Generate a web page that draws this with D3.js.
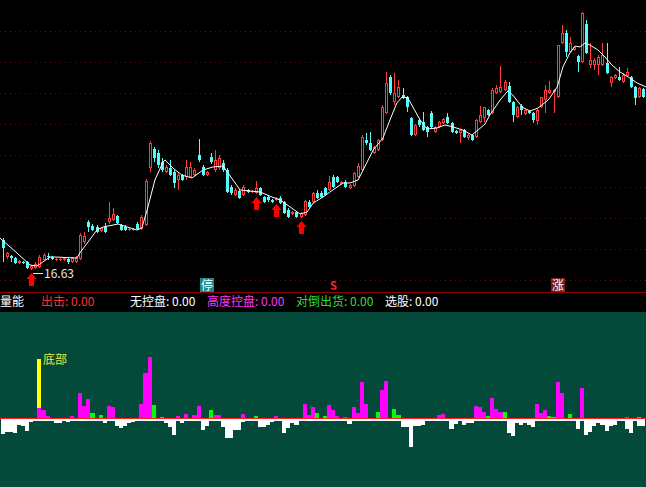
<!DOCTYPE html>
<html><head><meta charset="utf-8">
<script src="https://cdn.jsdelivr.net/npm/d3@7"></script>
<style>html,body{margin:0;padding:0;background:#000;overflow:hidden}svg{display:block}</style>
</head><body><svg id="c" width="646" height="487"></svg>
<script>
const candleOpen = [19.63,17.93,18.03,17.83,17.33,17.43,17.43,16.73,16.83,16.93,17.63,18.03,17.93,17.63,17.63,17.63,17.73,17.43,17.43,17.73,19.43,21.43,21.03,20.93,20.53,20.93,21.43,21.63,22.03,21.13,20.93,20.63,20.63,21.23,20.73,21.13,26.83,28.73,28.33,27.43,26.43,26.83,26.43,25.63,26.13,25.93,25.93,26.13,28.13,26.93,26.13,27.93,26.63,26.83,27.33,26.63,24.93,24.13,24.53,24.13,24.63,24.43,24.33,24.83,23.93,23.93,23.63,23.63,23.83,23.43,22.63,22.23,22.43,21.93,22.13,23.43,23.43,24.33,24.33,24.83,24.63,25.93,25.93,25.23,25.43,24.83,25.03,25.93,26.63,29.63,29.33,28.33,28.63,29.63,32.33,35.93,33.43,33.93,34.13,33.93,31.83,30.13,31.63,31.43,30.93,32.33,30.43,30.93,31.33,31.93,31.33,30.53,30.33,30.63,29.83,30.13,29.93,31.43,31.83,32.63,32.33,34.33,34.43,34.63,35.03,33.43,31.93,33.03,32.23,32.53,32.33,31.53,32.93,33.63,34.33,34.43,33.93,39.33,40.33,38.43,38.63,38.03,37.43,41.23,37.13,37.13,37.13,37.13,37.33,35.33,35.83,35.93,35.43,36.03,35.93,34.93,33.93,34.73];
const candleHigh = [19.83,18.43,18.13,17.93,17.63,17.53,17.53,17.13,17.43,18.13,18.33,18.33,18.03,17.83,17.83,17.93,17.83,17.93,18.03,20.33,20.43,21.63,21.23,21.13,20.93,21.33,23.43,22.83,22.13,21.23,21.13,20.83,20.83,21.43,22.13,25.73,29.53,28.93,28.63,27.83,27.13,27.63,26.63,26.33,26.23,27.63,27.43,26.83,29.73,27.13,26.53,28.33,28.63,28.13,27.63,26.83,25.13,24.83,24.73,25.13,24.73,24.63,25.53,24.93,24.03,24.13,23.73,23.93,24.03,23.53,22.83,22.53,22.53,22.43,23.63,23.63,24.43,24.63,24.53,24.93,26.03,26.13,26.03,25.53,25.63,25.23,26.43,27.33,30.13,30.33,30.43,29.03,29.73,33.13,36.43,36.13,36.33,35.63,34.83,34.03,31.93,31.23,31.73,32.43,31.03,32.53,31.03,31.53,31.83,32.33,31.43,30.63,30.73,30.73,30.23,30.23,31.73,33.03,32.93,32.73,34.83,35.13,37.03,35.63,35.43,33.53,33.03,33.23,32.73,32.63,32.43,32.73,33.93,35.13,35.53,34.73,39.13,41.13,40.63,39.93,39.03,38.13,42.43,41.63,39.33,37.83,38.13,39.33,39.33,36.03,36.23,36.93,36.33,36.83,36.03,35.03,34.93,34.83];
const candleLow = [17.43,17.73,17.43,17.23,17.23,17.23,16.73,16.63,16.73,16.83,17.53,17.63,17.63,17.53,17.53,17.53,17.23,17.33,17.33,17.63,19.23,20.43,20.53,20.33,20.43,20.33,21.23,21.53,21.23,20.53,20.53,20.53,20.53,20.63,20.63,21.03,26.43,27.43,26.83,26.43,26.33,26.03,24.83,24.63,25.53,25.63,25.83,26.03,27.43,26.03,26.03,27.23,26.43,26.63,26.43,24.33,24.13,24.03,23.73,24.03,24.33,24.33,24.23,24.03,23.33,23.43,23.33,23.53,23.23,22.23,21.83,22.13,21.83,21.83,22.03,22.83,23.33,23.73,23.83,24.03,24.53,24.83,25.33,25.13,24.83,24.73,24.93,25.83,26.53,29.13,28.53,28.23,28.53,29.53,32.23,34.13,33.13,33.83,33.73,32.43,30.03,30.03,30.93,30.53,29.93,30.83,30.33,30.83,31.23,31.23,30.33,30.23,29.33,29.83,29.63,29.53,29.83,31.33,31.43,32.03,32.23,34.23,34.33,34.53,33.33,31.43,31.83,32.13,32.13,32.23,31.33,31.13,32.83,32.33,34.23,32.33,33.83,39.23,37.93,38.33,38.53,36.43,37.33,38.23,36.83,36.63,36.13,37.03,36.23,34.93,35.73,35.53,35.33,35.93,34.83,33.13,33.83,33.83];
const candleClose = [18.83,18.33,17.83,17.33,17.53,17.33,16.83,17.03,17.23,17.93,18.13,17.93,17.73,17.73,17.73,17.83,17.43,17.83,17.83,20.13,20.03,20.93,20.63,20.43,20.83,20.43,21.83,22.23,21.33,20.63,20.63,20.73,20.73,20.73,21.93,25.53,29.33,27.83,27.13,26.63,26.93,26.13,25.33,26.13,25.63,26.93,26.93,26.63,27.63,26.13,26.43,27.43,27.63,27.83,26.63,24.43,24.33,24.63,23.83,24.93,24.43,24.53,24.83,24.13,23.43,23.63,23.43,23.83,23.33,22.33,21.93,22.43,21.93,22.33,23.53,22.93,24.33,23.83,23.93,24.13,25.43,24.93,25.43,25.43,24.93,25.13,26.33,27.03,29.93,29.33,28.63,28.93,29.63,32.93,35.33,34.33,34.33,34.93,33.83,32.93,30.13,31.13,31.13,30.63,30.43,30.93,30.93,31.43,31.73,31.33,30.43,30.33,30.63,29.93,30.13,29.63,31.63,32.13,32.93,32.13,34.63,34.83,34.93,35.43,33.43,32.13,32.93,32.63,32.63,32.33,31.63,32.63,33.93,34.63,34.63,34.63,39.13,40.33,38.43,39.33,38.93,37.43,42.33,38.33,37.63,37.63,37.93,38.13,36.33,35.93,36.13,35.63,36.13,36.43,34.93,33.83,34.83,33.93];

// white moving-average line: knots [bar index, price]
const maIndex = [-0.7,3.5,6.7,8.4,11.6,12.8,18.2,18.9,23.1,24.6,28.3,30.5,32.9,34.1,35.4,37.3,39.3,39.8,41.7,43.9,46.4,49.1,51.5,54,58.2,60.6,63.1,66,68,72.9,74.6,76.1,78.5,80.2,83.4,85.1,87.1,90.8,93.2,94.9,96.6,97.9,99.3,102.3,104,106.4,108.4,110.4,112.8,115,116.5,118.2,119.4,121.9,123.8,125,127.3,129.2,131.2,133.7,135.9,137.3,139,140.3,141.5,142.7,143.9,145.9,147.6,149.3,151.3,153.3,155.5,157.7];
const maValue = [19.83,18.33,17.13,17.03,17.93,17.93,17.83,18.33,20.63,20.93,21.23,20.93,20.63,20.83,22.63,25.63,27.43,27.63,26.83,26.13,25.83,26.63,26.93,27.03,24.63,24.53,24.43,23.93,23.63,22.23,22.43,23.33,23.93,24.43,25.33,25.33,25.63,28.63,29.83,31.63,33.33,33.93,33.83,31.63,30.73,30.83,31.13,30.93,30.63,30.13,30.63,31.23,32.13,33.63,34.53,34.13,32.93,32.53,32.83,33.63,34.93,36.93,38.33,39.03,38.93,39.33,39.13,38.63,37.93,37.13,36.43,35.93,35.33,34.93];

// grid price levels (no labels shown)
const gridLevels = [40.58,37.46,34.34,31.22,28.10,24.98,21.86,18.74,15.62];

// lower indicator panel
const magentaBars = [[9,10],[10,8],[11,2],[17,2],[19,25],[20,12],[21,19],[26,12],[27,11],[34,14],[35,45],[36,61],[43,2],[45,4],[47,3],[48,12],[52,3],[53,3],[59,4],[67,2],[74,14],[75,3],[76,11],[80,13],[81,8],[82,2],[84,1],[86,11],[87,5],[88,36],[89,14],[93,28],[94,37],[107,3],[108,4],[116,12],[117,11],[118,6],[120,20],[121,9],[122,6],[131,14],[132,5],[133,8],[136,36],[137,25],[142,30],[153,1]];
const greenBars = [[22,5],[24,3],[37,13],[39,1],[51,8],[62,2],[77,5],[79,2],[92,6],[96,9],[97,3],[119,2],[123,6],[134,2],[135,1],[139,4],[156,1]];
const whiteVals = [15,13,13,14,6,7,12,3,2,2,2,2,2,4,4,2,3,2,2,2,2,2,2,2,2,4,2,2,7,9,7,4,3,2,2,2,2,2,2,2,4,8,16,2,4,2,2,2,2,11,7,2,2,2,8,19,19,11,11,3,2,2,2,8,8,6,3,2,2,14,9,4,6,2,2,2,2,2,2,2,2,2,2,2,2,5,2,2,2,2,2,2,2,2,2,2,2,2,8,8,28,7,7,6,2,2,2,2,2,2,10,5,2,6,4,4,2,2,2,2,2,2,2,2,14,17,4,6,4,6,8,2,2,2,2,2,2,2,2,2,2,10,2,16,13,7,4,6,12,7,6,2,2,10,14,2,7,7];
const bottomBar = {index: 9, from: 10, to: 59, label: "底部"};

const signalArrows = [7, 62, 67, 73];
const tags = [{index:50, text:"停", bg:"#168c8c", fg:"#ffffff"},{index:136, text:"涨", bg:"#7a1d1d", fg:"#ffffff"}];
const sTags = [{index:81, text:"S"}];

const legendItems = [
  {text:"量能", color:"#ffffff", x:0},
  {text:"出击: 0.00", color:"#ff3030", x:41},
  {text:"无控盘: 0.00", color:"#ffffff", x:130},
  {text:"高度控盘: 0.00", color:"#ff33ff", x:207},
  {text:"对倒出货: 0.00", color:"#33dd33", x:296},
  {text:"选股: 0.00", color:"#ffffff", x:385}
];

const W = 646, H = 487;
const FONT = "'Noto Sans CJK SC','Noto Sans',sans-serif";
const UP = "#ff3c3c", DOWN = "#54fcfc";
const svg = d3.select("#c");
svg.append("rect").attr("width", W).attr("height", H).attr("fill", "#000");
svg.append("rect").attr("x", 0).attr("y", 312).attr("width", W).attr("height", H - 312).attr("fill", "#034a3b");

const n = candleOpen.length;
const x = d3.scaleLinear().domain([0, n - 1]).range([2.7, 643.3]);
const y = d3.scaleLinear().domain([14.63, 43.63]).range([290, 0]);

// grid
svg.append("g").selectAll("line").data(gridLevels).join("line")
  .attr("x1", 0).attr("x2", W)
  .attr("y1", d => Math.round(y(d)) + 0.5).attr("y2", d => Math.round(y(d)) + 0.5)
  .attr("stroke", "#5a1010").attr("stroke-dasharray", "1,4");

// separator
svg.append("line").attr("x1", 0).attr("x2", W).attr("y1", 292.5).attr("y2", 292.5).attr("stroke", "#8c0000");

// candles
const data = d3.range(n).map(i => ({i, o: candleOpen[i], h: candleHigh[i], l: candleLow[i], c: candleClose[i]}));
const cg = svg.append("g");
data.forEach(d => {
  const cx = Math.round(x(d.i));
  const up = d.c >= d.o;
  const top = Math.round(y(Math.max(d.o, d.c)));
  const bot = Math.round(y(Math.min(d.o, d.c)));
  const yh = Math.round(y(d.h)), yl = Math.round(y(d.l));
  const col = up ? UP : DOWN;
  if (up) {
    if (yh < top) cg.append("line").attr("x1", cx + 0.5).attr("x2", cx + 0.5).attr("y1", yh).attr("y2", top).attr("stroke", col);
    if (yl > bot) cg.append("line").attr("x1", cx + 0.5).attr("x2", cx + 0.5).attr("y1", bot).attr("y2", yl).attr("stroke", col);
    if (bot - top >= 2) {
      cg.append("rect").attr("x", cx - 0.5).attr("y", top + 0.5).attr("width", 2).attr("height", bot - top - 1)
        .attr("fill", "#000").attr("stroke", col);
    } else {
      cg.append("rect").attr("x", cx - 1).attr("y", top).attr("width", 3).attr("height", Math.max(1, bot - top)).attr("fill", col);
    }
  } else {
    cg.append("line").attr("x1", cx + 0.5).attr("x2", cx + 0.5).attr("y1", yh).attr("y2", yl).attr("stroke", col);
    cg.append("rect").attr("x", cx - 1).attr("y", top).attr("width", 3).attr("height", Math.max(1, bot - top)).attr("fill", col);
  }
});

// MA line
svg.append("path").datum(d3.zip(maIndex, maValue))
  .attr("d", d3.line().x(d => x(d[0])).y(d => y(d[1])))
  .attr("fill", "none").attr("stroke", "#ffffff").attr("stroke-width", 1);

// red signal arrows below lows
signalArrows.forEach(i => {
  const cx = Math.round(x(i)) + 0.5;
  const t = Math.round(y(candleLow[i])) + 3;
  const p = `M${cx},${t} L${cx + 5},${t + 6} L${cx + 2.5},${t + 6} L${cx + 2.5},${t + 13} L${cx - 2.5},${t + 13} L${cx - 2.5},${t + 6} L${cx - 5},${t + 6} Z`;
  svg.append("path").attr("d", p).attr("fill", "#ff0000");
});

// lowest price label
const minLow = d3.min(candleLow), minIdx = candleLow.indexOf(minLow);
const lx = Math.round(x(minIdx));
svg.append("line").attr("x1", lx + 2).attr("x2", lx + 12).attr("y1", 273.5).attr("y2", 273.5).attr("stroke", "#e8e8e8");
svg.append("text").attr("x", lx + 13).attr("y", 278).attr("fill", "#e8e8e8")
  .attr("font-family", FONT).attr("font-size", 12).text(minLow.toFixed(2));

// tags on the bottom of the price panel
tags.forEach(t => {
  const cx = Math.round(x(t.index));
  svg.append("rect").attr("x", cx - 7).attr("y", 278).attr("width", 14).attr("height", 14).attr("fill", t.bg);
  svg.append("text").attr("x", cx).attr("y", 289.5).attr("text-anchor", "middle").attr("fill", t.fg)
    .attr("font-family", FONT).attr("font-size", 12).text(t.text);
});
sTags.forEach(t => {
  const cx = Math.round(x(t.index));
  svg.append("text").attr("x", cx + 0.5).attr("y", 290).attr("text-anchor", "middle").attr("fill", "#ff2020")
    .attr("font-family", FONT).attr("font-weight", "bold").attr("font-size", 11).text(t.text);
});

// legend
const lg = svg.append("text").attr("y", 306).attr("font-family", FONT).attr("font-size", 12);
legendItems.forEach(it => {
  svg.append("text").attr("x", it.x).attr("y", 306).attr("fill", it.color)
    .attr("font-family", FONT).attr("font-size", 12).text(it.text);
});

// lower panel
const yl = d3.scaleLinear().domain([0, 100]).range([418, 318]);
const bl = i => Math.round(x(i) - 2.04);
const bw = i => Math.round(x(i) + 2.04) - bl(i);
const lower = svg.append("g");
lower.selectAll("rect.w").data(whiteVals).join("rect").attr("class", "w")
  .attr("x", (d, i) => bl(i)).attr("width", (d, i) => bw(i))
  .attr("y", yl(0) + 1).attr("height", d => yl(-d) - yl(0)).attr("fill", "#ffffff");
lower.selectAll("rect.m").data(magentaBars).join("rect").attr("class", "m")
  .attr("x", d => bl(d[0])).attr("width", d => bw(d[0]))
  .attr("y", d => yl(d[1])).attr("height", d => yl(0) - yl(d[1])).attr("fill", "#ff00ff");
lower.selectAll("rect.g").data(greenBars).join("rect").attr("class", "g")
  .attr("x", d => bl(d[0])).attr("width", d => bw(d[0]))
  .attr("y", d => yl(d[1])).attr("height", d => yl(0) - yl(d[1])).attr("fill", "#00ff00");
lower.append("rect").attr("x", bl(bottomBar.index)).attr("width", bw(bottomBar.index))
  .attr("y", yl(bottomBar.to)).attr("height", yl(bottomBar.from) - yl(bottomBar.to)).attr("fill", "#ffff00");
lower.append("text").attr("x", bl(bottomBar.index) + 6).attr("y", yl(bottomBar.to) + 5).attr("fill", "#e8e840")
  .attr("font-family", FONT).attr("font-size", 12).text(bottomBar.label);
svg.append("line").attr("x1", 0).attr("x2", W).attr("y1", 418.5).attr("y2", 418.5).attr("stroke", "#ff2020");
</script></body></html>
